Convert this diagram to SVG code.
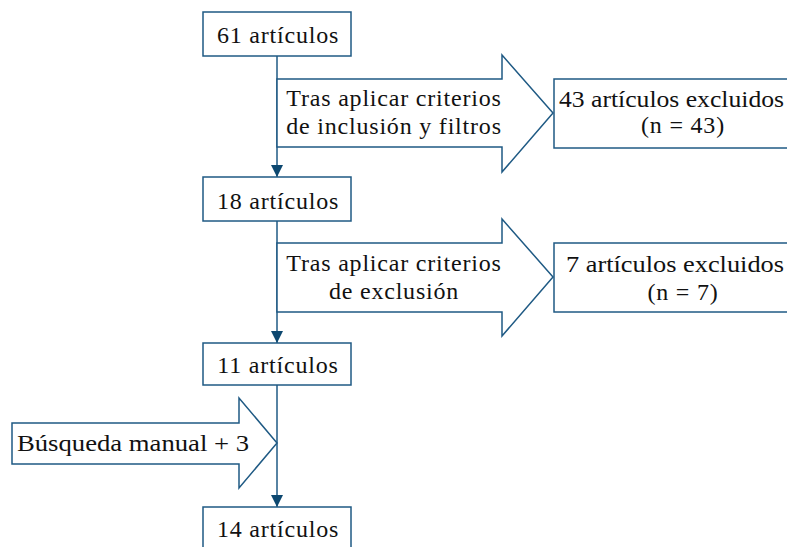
<svg xmlns="http://www.w3.org/2000/svg" width="787" height="547" viewBox="0 0 787 547">
<defs>
<style>
.box{fill:#fff;stroke:#1f5a84;stroke-width:1.5}
.arr{fill:#fff;stroke:#1f5a84;stroke-width:1.5;stroke-linejoin:miter}
.t{font-family:"Liberation Serif","Times New Roman",serif;font-size:24px;letter-spacing:0.8px;fill:#111;text-anchor:middle}
.ts{text-anchor:start;letter-spacing:0}
.ln{stroke:#1f5a84;stroke-width:1.5;fill:none}
</style>
<marker id="ah" markerUnits="userSpaceOnUse" markerWidth="14" markerHeight="12" refX="12" refY="6" orient="auto">
<path d="M0,0 L12,6 L0,12 Z" fill="#0d4870"/>
</marker>
</defs>
<rect width="787" height="547" fill="#fff"/>
<g id="connectors">
<line class="ln" x1="277" y1="56" x2="277" y2="177" marker-end="url(#ah)"/>
<line class="ln" x1="277" y1="221" x2="277" y2="343" marker-end="url(#ah)"/>
<line class="ln" x1="277" y1="385" x2="277" y2="507" marker-end="url(#ah)"/>
</g>
<g id="arrow1">
<polygon class="arr" points="277,79 502,79 502,55 553,113 502,172 502,147 277,147"/>
<text class="t" x="394" y="106">Tras aplicar criterios</text>
<text class="t" x="394" y="134">de inclusión y filtros</text>
</g>
<g id="arrow2">
<polygon class="arr" points="277,243 502,243 502,219 553,277 502,336 502,312 277,312"/>
<text class="t" x="394" y="271">Tras aplicar criterios</text>
<text class="t" x="394" y="299">de exclusión</text>
</g>
<g id="arrow3">
<polygon class="arr" points="12,423 239,423 239,398 277,443 239,488 239,464 12,464"/>
<text class="t ts" x="17" y="451" textLength="232" lengthAdjust="spacingAndGlyphs">Búsqueda manual + 3</text>
</g>
<g id="n61">
<rect class="box" x="203" y="12" width="148" height="44"/>
<text class="t" x="278" y="43">61 artículos</text>
</g>
<g id="n18">
<rect class="box" x="203" y="177" width="148" height="44"/>
<text class="t" x="278" y="209">18 artículos</text>
</g>
<g id="n11">
<rect class="box" x="203" y="343" width="148" height="42"/>
<text class="t" x="278" y="373">11 artículos</text>
</g>
<g id="n14">
<rect class="box" x="203" y="507" width="148" height="50"/>
<text class="t" x="278" y="537">14 artículos</text>
</g>
<g id="n43">
<rect class="box" x="554" y="79" width="258" height="69"/>
<text class="t ts" x="559" y="107" textLength="225" lengthAdjust="spacingAndGlyphs">43 artículos excluidos</text>
<text class="t" x="683" y="133">(n = 43)</text>
</g>
<g id="n7">
<rect class="box" x="554" y="243" width="258" height="69"/>
<text class="t ts" x="566" y="272" textLength="218" lengthAdjust="spacingAndGlyphs">7 artículos excluidos</text>
<text class="t" x="683" y="300">(n = 7)</text>
</g>
</svg>
